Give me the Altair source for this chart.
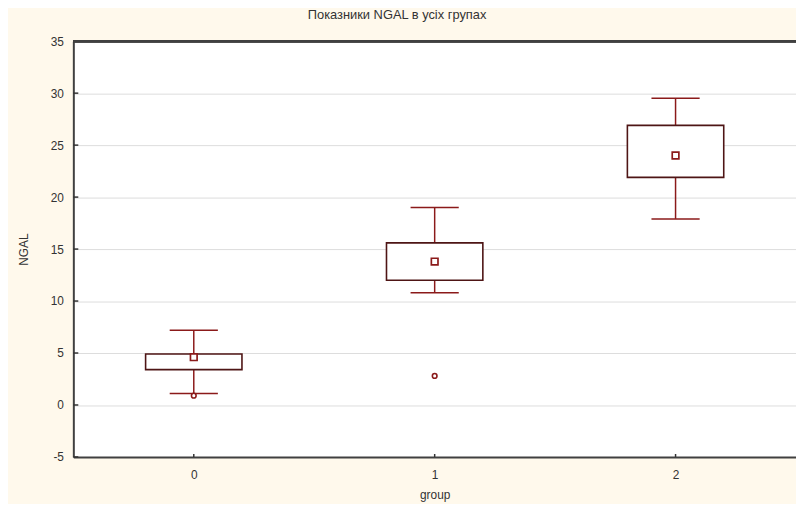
import altair as alt
import pandas as pd

groups = [0, 1, 2]
whisker_low = [1.1, 10.8, 17.9]
box_q1 = [3.4, 12.0, 21.9]
box_q3 = [4.9, 15.6, 26.9]
whisker_high = [7.2, 19.0, 29.5]
means = [4.6, 13.8, 24.0]

outlier_groups = [0, 1]
outlier_values = [0.9, 2.8]

y_ticks = [-5, 0, 5, 10, 15, 20, 25, 30, 35]
x_ticks = [0, 1, 2]

title_text = "Показники NGAL в усіх групах"

WHISKER = "#8B1A1A"
BOXLINE = "#4E1515"
FONT = "Liberation Sans"

df = pd.DataFrame({
    "group": groups,
    "low": whisker_low,
    "q1": box_q1,
    "q3": box_q3,
    "high": whisker_high,
    "mean": means,
})
df_out = pd.DataFrame({"group": outlier_groups, "value": outlier_values})
df_yt = pd.DataFrame({"tick": y_ticks})
df_xt = pd.DataFrame({"tick": x_ticks})

xscale = alt.Scale(domain=[-0.5, 2.5], nice=False, zero=False)
yscale = alt.Scale(domain=[-5, 35], nice=False, zero=False)

xenc = alt.X("group:Q", scale=xscale,
             axis=alt.Axis(values=x_ticks, format="d", title="group", grid=False,
                           tickSize=0, labelPadding=13, titlePadding=9))
yenc = alt.Y("low:Q", scale=yscale,
             axis=alt.Axis(values=y_ticks, title="NGAL", grid=True, tickSize=0,
                           labelExpr="'' + datum.value",
                           labelPadding=10, titlePadding=20))

base = alt.Chart(df)

whisker = base.mark_rule(color=WHISKER, strokeWidth=1.5).encode(
    x=xenc, y=yenc, y2="high:Q")

caps_data = base.transform_calculate(
    cl="datum.group - 0.1", cr="datum.group + 0.1")

cap_low = caps_data.mark_rule(color=WHISKER, strokeWidth=1.5).encode(
    x=alt.X("cl:Q", scale=xscale), x2="cr:Q",
    y=alt.Y("low:Q", scale=yscale))
cap_high = caps_data.mark_rule(color=WHISKER, strokeWidth=1.5).encode(
    x=alt.X("cl:Q", scale=xscale), x2="cr:Q",
    y=alt.Y("high:Q", scale=yscale))

box = base.transform_calculate(
    bl="datum.group - 0.2", br="datum.group + 0.2"
).mark_rect(fill="white", stroke=BOXLINE, strokeWidth=1.6).encode(
    x=alt.X("bl:Q", scale=xscale), x2="br:Q",
    y=alt.Y("q1:Q", scale=yscale), y2="q3:Q")

mean_pt = base.mark_point(shape="square", size=45, filled=True, fill="white",
                          stroke=WHISKER, strokeWidth=1.7, opacity=1).encode(
    x=alt.X("group:Q", scale=xscale),
    y=alt.Y("mean:Q", scale=yscale))

outl = alt.Chart(df_out).mark_point(shape="circle", size=22, filled=True,
                                    fill="white", stroke=WHISKER,
                                    strokeWidth=1.6, opacity=1).encode(
    x=alt.X("group:Q", scale=xscale),
    y=alt.Y("value:Q", scale=yscale))

ytick_marks = alt.Chart(df_yt).mark_rule(color="#333333", strokeWidth=1.5).encode(
    y=alt.Y("tick:Q", scale=yscale), x=alt.value(0), x2=alt.value(5))

xtick_marks = alt.Chart(df_xt).mark_rule(color="#333333", strokeWidth=1.5).encode(
    x=alt.X("tick:Q", scale=xscale), y=alt.value(420), y2=alt.value(417))

top_frame = alt.Chart(df_yt).mark_rule(color="#404040", strokeWidth=2).encode(
    x=alt.value(0), x2=alt.value(730), y=alt.value(0))

chart = alt.layer(
    whisker, cap_low, cap_high, box, mean_pt, outl,
    ytick_marks, xtick_marks, top_frame
).properties(
    width=730,
    height=420,
    title=alt.TitleParams(title_text, fontSize=13, font=FONT, color="#333333",
                          fontWeight="normal", anchor="middle", dx=-38, offset=13),
    autosize=alt.AutoSizeParams(type="none"),
    padding={"left": 66, "top": 31, "right": 0, "bottom": 45},
    background="#FFF9EC",
).configure_view(
    fill="white", stroke=None
).configure_axis(
    labelFont=FONT, labelFontSize=12, labelColor="#333333",
    titleFont=FONT, titleFontSize=12, titleColor="#333333", titleFontWeight="normal",
    domainColor="#404040", domainWidth=2,
    gridColor="#DDDDDD", gridWidth=1,
)

chart.save("out.html", embed_options={"renderer": "svg", "actions": False})
